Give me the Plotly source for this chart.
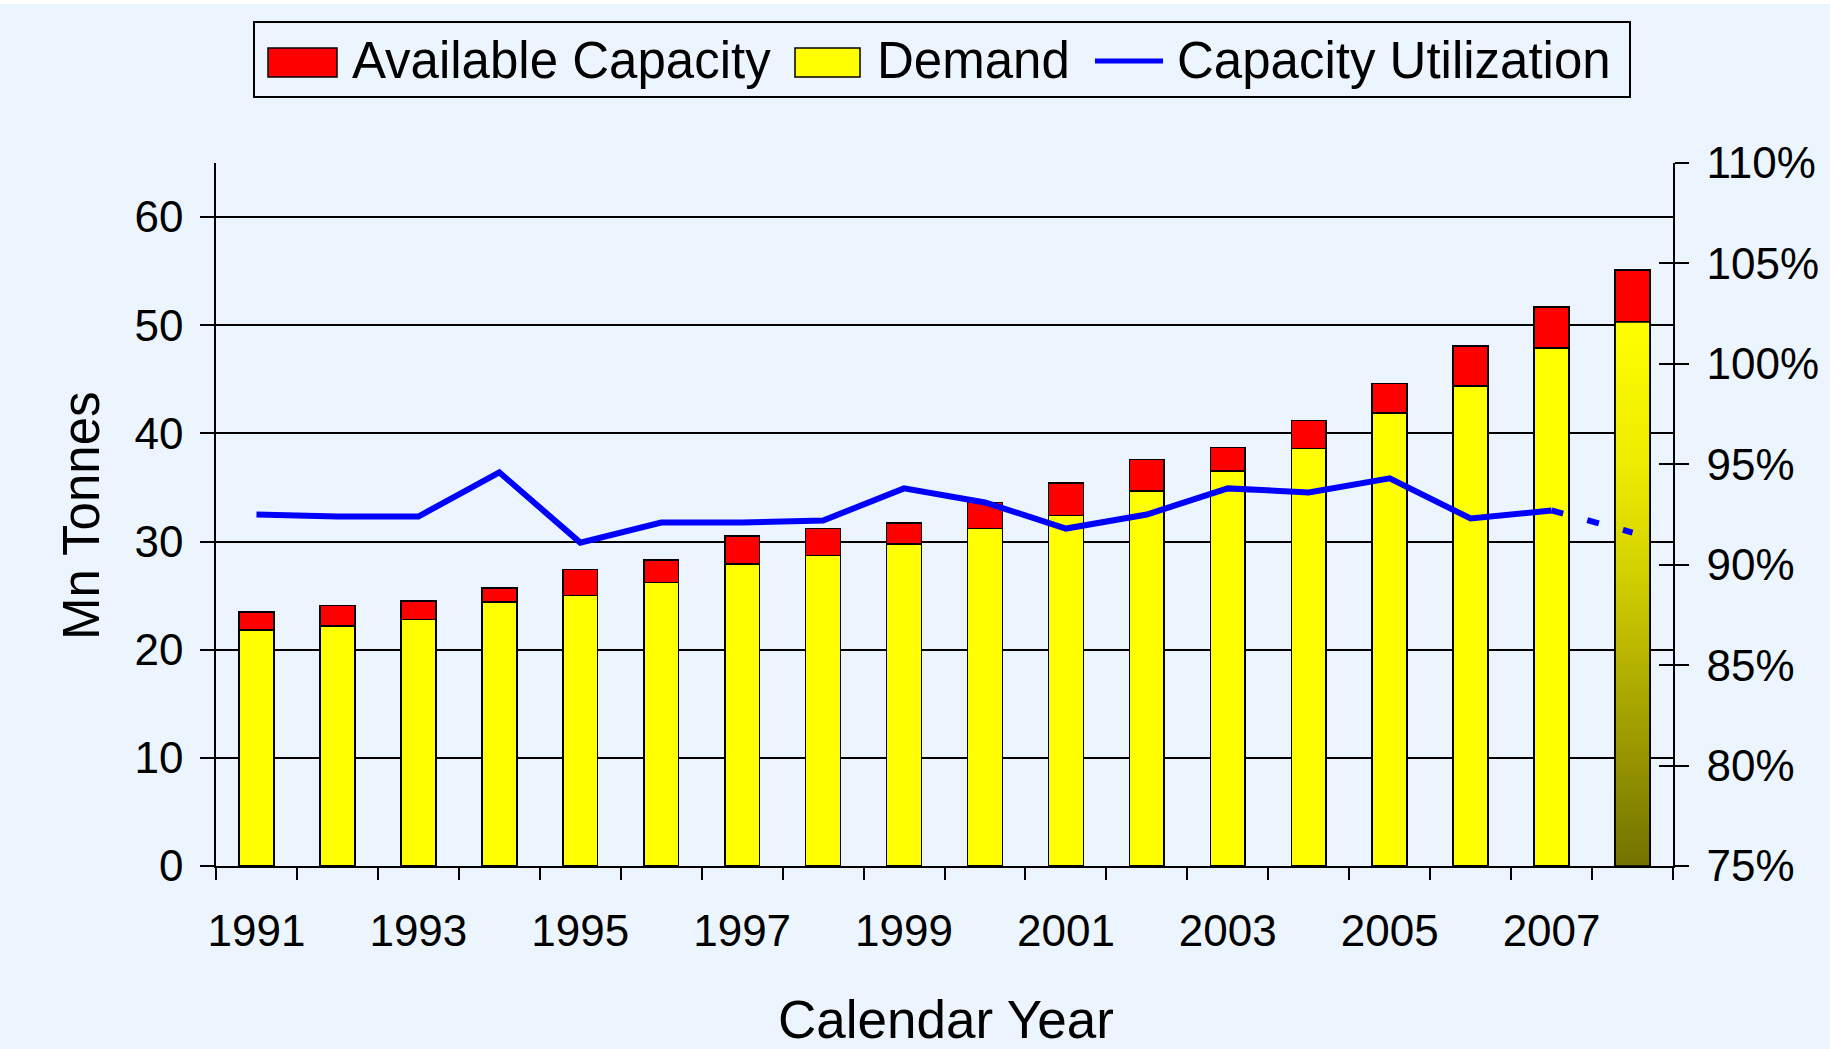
import plotly.graph_objects as go

# ---------------- data ----------------
years = [1991, 1992, 1993, 1994, 1995, 1996, 1997, 1998, 1999,
         2000, 2001, 2002, 2003, 2004, 2005, 2006, 2007, 2008]
demand = [21.8, 22.2, 22.8, 24.4, 25.0, 26.2, 27.9, 28.7, 29.8,
          31.2, 32.4, 34.7, 36.5, 38.6, 41.9, 44.4, 47.9, 50.3]
available_capacity = [1.7, 1.9, 1.7, 1.3, 2.4, 2.1, 2.6, 2.5, 1.9,
                      2.4, 3.0, 2.9, 2.2, 2.6, 2.7, 3.7, 3.8, 4.8]
utilization = [92.5, 92.4, 92.4, 94.6, 91.1, 92.1, 92.1, 92.2, 93.8,
               93.1, 91.8, 92.5, 93.8, 93.6, 94.3, 92.3, 92.7, 91.6]
left_ticks = [0, 10, 20, 30, 40, 50, 60]
right_ticks = [75, 80, 85, 90, 95, 100, 105, 110]
x_label_years = years[::2]

# ---------------- style ----------------
W, H = 1830, 1049
L, R, T, B = 216, 157, 163, 183
PW, PH = W - L - R, H - T - B
BG = "#ECF5FE"
FONT = "Liberation Sans, Arial, sans-serif"
BAR_W = 0.43
LINE_W = 6


def px(xpix):
    return (xpix - L) / PW


def py(ypix):
    return (H - B - ypix) / PH


fig = go.Figure()

demand_colors = ["#FFFF00"] * (len(years) - 1) + ["rgba(0,0,0,0)"]
fig.add_bar(x=years, y=demand, name="Demand", width=BAR_W,
            marker=dict(color=demand_colors, line=dict(color="black", width=1.6)),
            showlegend=False)
fig.add_bar(x=years, y=available_capacity, name="Available Capacity", width=BAR_W,
            marker=dict(color="#FF0000", line=dict(color="black", width=1.6)),
            showlegend=False)

# gradient-filled final demand bar
xl, xr = years[-1] - BAR_W / 2, years[-1] + BAR_W / 2
fig.add_trace(go.Scatter(
    x=[xl, xl, xr, xr, xl], y=[0, demand[-1], demand[-1], 0, 0],
    mode="lines", fill="toself",
    fillgradient=dict(type="vertical",
                      colorscale=[[0, "#747200"], [0.37, "#B4B200"], [0.56, "#D6D400"],
                                  [0.74, "#EEEC00"], [1, "#FFFF00"]]),
    line=dict(color="black", width=1.6), showlegend=False, hoverinfo="skip"))

# capacity utilization line
fig.add_trace(go.Scatter(x=years[:-1], y=utilization[:-1], yaxis="y2", mode="lines",
                         line=dict(color="#0000FF", width=LINE_W), name="Capacity Utilization",
                         showlegend=False))
fig.add_trace(go.Scatter(x=years[-2:], y=utilization[-2:], yaxis="y2", mode="lines",
                         line=dict(color="#0000FF", width=LINE_W, dash="12px,25px"),
                         showlegend=False, hoverinfo="skip"))
# helper trace for inner right ticks axis
fig.add_trace(go.Scatter(x=years, y=utilization, yaxis="y3", mode="lines",
                         line=dict(width=0), opacity=0, showlegend=False, hoverinfo="skip"))

tickfont = dict(family=FONT, size=44, color="black")

fig.update_layout(
    width=W, height=H, template="none",
    margin=dict(l=L, r=R, t=T, b=B, pad=0),
    paper_bgcolor=BG, plot_bgcolor=BG,
    barmode="stack", showlegend=False,
    font=dict(family=FONT, color="black"),
    xaxis=dict(range=[years[0] - 0.5, years[-1] + 0.5], tickmode="array",
               tickvals=x_label_years, ticktext=[str(y) for y in x_label_years],
               ticks="", showgrid=False, zeroline=False, showline=True,
               linecolor="black", linewidth=1.6, tickfont=tickfont,
               ticklabelstandoff=25, automargin=False,
               minor=dict(tickmode="array",
                          tickvals=[y - 0.5 for y in years] + [years[-1] + 0.5],
                          ticks="outside", ticklen=12, tickwidth=1.6,
                          tickcolor="black", showgrid=False)),
    yaxis=dict(range=[0, 65], tickmode="array", tickvals=left_ticks,
               ticks="outside", ticklen=14, tickwidth=1.6, tickcolor="black",
               showgrid=True, gridcolor="black", gridwidth=1.6, zeroline=False,
               showline=True, linecolor="black", linewidth=1.6, tickfont=tickfont,
               ticklabelstandoff=8, automargin=False),
    yaxis2=dict(range=[75, 110], overlaying="y", side="right", anchor="x",
                tickmode="array", tickvals=right_ticks,
                ticktext=[f"{v}%" for v in right_ticks],
                ticks="outside", ticklen=14, tickwidth=1.6, tickcolor="black",
                showgrid=False, zeroline=False, showline=True, linecolor="black",
                linewidth=1.6, tickfont=tickfont, ticklabelstandoff=9,
                automargin=False),
    yaxis3=dict(range=[75, 110], overlaying="y", side="right", anchor="x",
                tickmode="array", tickvals=right_ticks, showticklabels=False,
                ticks="inside", ticklen=14, tickwidth=1.6, tickcolor="black",
                showgrid=False, zeroline=False, showline=False, automargin=False),
)

shapes = [
    # white strip at top
    dict(type="rect", xref="paper", yref="paper", x0=px(0), x1=px(W), y0=py(4), y1=py(0),
         fillcolor="white", line=dict(width=0)),
    # legend box
    dict(type="rect", xref="paper", yref="paper", x0=px(254), x1=px(1630), y0=py(97), y1=py(22),
         fillcolor=BG, line=dict(color="black", width=2)),
    dict(type="rect", xref="paper", yref="paper", x0=px(268), x1=px(337), y0=py(77), y1=py(48),
         fillcolor="#FF0000", line=dict(color="black", width=1.5)),
    dict(type="rect", xref="paper", yref="paper", x0=px(795), x1=px(860), y0=py(77), y1=py(48),
         fillcolor="#FFFF00", line=dict(color="black", width=1.5)),
    dict(type="line", xref="paper", yref="paper", x0=px(1095), x1=px(1163), y0=py(61), y1=py(61),
         line=dict(color="#0000FF", width=5)),
]
fig.update_layout(shapes=shapes)

legfont = dict(family=FONT, size=51, color="black")
annotations = [
    dict(text="Available Capacity", x=px(350), y=py(61), xanchor="left", yanchor="middle",
         font=legfont),
    dict(text="Demand", x=px(875), y=py(61), xanchor="left", yanchor="middle", font=legfont),
    dict(text="Capacity Utilization", x=px(1175), y=py(61), xanchor="left", yanchor="middle",
         font=legfont),
    dict(text="Mn Tonnes", x=px(81), y=py(516), xanchor="center", yanchor="middle",
         textangle=-90, font=dict(family=FONT, size=51, color="black")),
    dict(text="Calendar Year", x=px(946), y=py(1020), xanchor="center", yanchor="middle",
         font=dict(family=FONT, size=53, color="black")),
]
for a in annotations:
    a.update(xref="paper", yref="paper", showarrow=False)
fig.update_layout(annotations=annotations)

fig.write_html("out.html", config={"displayModeBar": False},
               post_script="document.body.style.margin='0';")
